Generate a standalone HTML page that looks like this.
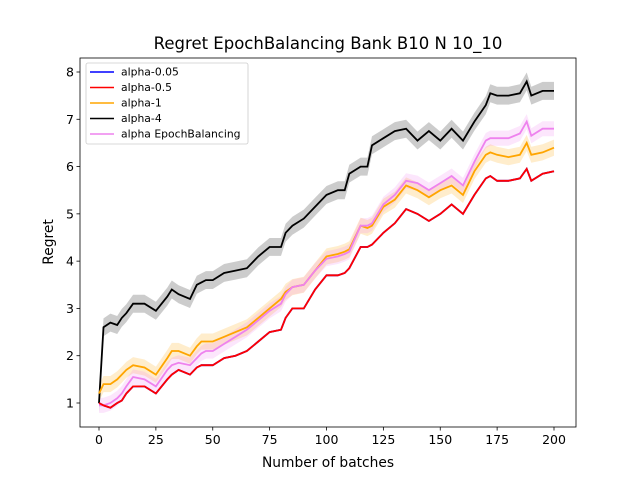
<!DOCTYPE html>
<html><head><meta charset="utf-8"><style>body{margin:0;background:#fff}svg{display:block;font-family:"DejaVu Sans","Liberation Sans",sans-serif}</style></head>
<body>
<svg id="c" width="640" height="480"></svg>
<script>
const xKeys=[0,2,5,8,10,12,15,20,25,30,32,35,40,43,45,47,50,55,60,65,70,75,80,82,85,90,95,100,105,108,110,115,118,120,125,130,135,140,145,150,155,160,165,170,172,175,180,185,188,190,195,200];
const redVals=[1.0,0.95,0.9,1.0,1.05,1.2,1.35,1.35,1.2,1.5,1.6,1.7,1.6,1.75,1.8,1.8,1.8,1.95,2.0,2.1,2.3,2.5,2.55,2.8,3.0,3.0,3.4,3.7,3.7,3.75,3.85,4.3,4.3,4.35,4.6,4.8,5.1,5.0,4.85,5.0,5.2,5.0,5.4,5.75,5.8,5.7,5.7,5.75,5.95,5.7,5.85,5.9];
const orangeVals=[1.2,1.4,1.4,1.5,1.6,1.7,1.8,1.75,1.6,1.95,2.1,2.1,2.0,2.2,2.3,2.3,2.3,2.4,2.5,2.6,2.8,3.0,3.2,3.35,3.45,3.5,3.8,4.1,4.15,4.2,4.25,4.75,4.7,4.75,5.15,5.3,5.6,5.5,5.35,5.5,5.6,5.4,5.9,6.25,6.3,6.25,6.2,6.25,6.5,6.25,6.3,6.4];
const violetVals=[0.95,0.95,1.0,1.1,1.2,1.35,1.55,1.5,1.35,1.7,1.8,1.85,1.8,1.95,2.05,2.1,2.1,2.25,2.4,2.55,2.75,2.95,3.1,3.3,3.45,3.5,3.8,4.05,4.1,4.15,4.2,4.75,4.75,4.8,5.2,5.4,5.7,5.65,5.5,5.65,5.8,5.6,6.1,6.55,6.6,6.6,6.6,6.7,6.95,6.65,6.8,6.8];
const blackVals=[1.0,2.6,2.7,2.65,2.8,2.9,3.1,3.1,2.95,3.25,3.4,3.3,3.2,3.5,3.55,3.6,3.6,3.75,3.8,3.85,4.1,4.3,4.3,4.6,4.75,4.9,5.15,5.4,5.5,5.5,5.85,6.0,6.0,6.45,6.6,6.75,6.8,6.55,6.75,6.55,6.8,6.55,6.95,7.3,7.55,7.5,7.5,7.55,7.8,7.5,7.6,7.6];
const bandWidths=[0.02,0.17,0.16,0.19]; // red, orange, violet, black
const xTicks=[0,25,50,75,100,125,150,175,200];
const yTicks=[1,2,3,4,5,6,7,8];
const seriesNames=["alpha-0.05","alpha-0.5","alpha-1","alpha-4","alpha EpochBalancing"];
const NS="http://www.w3.org/2000/svg",svg=document.getElementById('c');
const L=80,R=576,T=58,B=427;
const sx=v=>99+v*(554-99)/200, sy=v=>403-(v-1)*(403-72)/7;
function mk(t,a,p){const e=document.createElementNS(NS,t);for(const k in a)e.setAttribute(k,a[k]);(p||svg).appendChild(e);return e;}
function path(vals,off){return vals.map((v,i)=>(i?'L':'M')+sx(xKeys[i]).toFixed(1)+','+sy(v+off).toFixed(1)).join('');}
function band(vals,w){const up=vals.map((v,i)=>sx(xKeys[i]).toFixed(1)+','+sy(v+w).toFixed(1));const dn=vals.map((v,i)=>sx(xKeys[i]).toFixed(1)+','+sy(v-w).toFixed(1)).reverse();return 'M'+up.join('L')+'L'+dn.join('L')+'Z';}
mk('rect',{x:L,y:T,width:R-L,height:B-T,fill:'#fff',stroke:'none'});
const defs=[[blackVals,'#000',bandWidths[3],'alpha-4'],[orangeVals,'#ffa500',bandWidths[1],'alpha-1'],[violetVals,'#ee82ee',bandWidths[2],'alpha-epochbalancing'],[redVals,'#ff0000',bandWidths[0],'alpha-0.5']];
defs.forEach(d=>{const b=mk('path',{d:band(d[0],d[2]),fill:d[1],'fill-opacity':0.2});

});
const blue=mk('path',{d:path(redVals,0),fill:'none',stroke:'#0000ff','stroke-width':1.8});


defs.forEach(d=>{const l=mk('path',{d:path(d[0],0),fill:'none',stroke:d[1],'stroke-width':1.8});

});
mk('rect',{x:L,y:T,width:R-L,height:B-T,fill:'none',stroke:'#000','stroke-width':0.8});
xTicks.forEach(t=>{const x=sx(t);mk('line',{x1:x,x2:x,y1:B,y2:B+3.5,stroke:'#000','stroke-width':0.8});
const tx=mk('text',{x:x,y:B+17,'font-size':12.5,'text-anchor':'middle'});tx.textContent=t;

});
yTicks.forEach(t=>{const y=sy(t);mk('line',{x1:L-3.5,x2:L,y1:y,y2:y,stroke:'#000','stroke-width':0.8});
const tx=mk('text',{x:L-6,y:y+4.5,'font-size':12.5,'text-anchor':'end'});tx.textContent=t;

});
const ti=mk('text',{x:328,y:49,'font-size':16.5,'text-anchor':'middle'});ti.textContent='Regret EpochBalancing Bank B10 N 10_10';


const xl=mk('text',{x:328,y:467,'font-size':13.8,'text-anchor':'middle'});xl.textContent='Number of batches';


const yl=mk('text',{x:0,y:0,'font-size':13.8,'text-anchor':'middle',transform:'translate(53,242) rotate(-90)'});yl.textContent='Regret';


const lg=mk('g',{});


mk('rect',{x:86,y:63,width:162,height:81,rx:2,fill:'#fff','fill-opacity':0.8,stroke:'#ccc','stroke-width':0.8},lg);
const cols=['#0000ff','#ff0000','#ffa500','#000','#ee82ee'];
seriesNames.forEach((n,i)=>{const y=72+i*15.5;mk('line',{x1:90,x2:114,y1:y,y2:y,stroke:cols[i],'stroke-width':1.5},lg);
const t=mk('text',{x:121,y:y+3.5,'font-size':10.8},lg);t.textContent=n;

});
</script>
</body></html>
